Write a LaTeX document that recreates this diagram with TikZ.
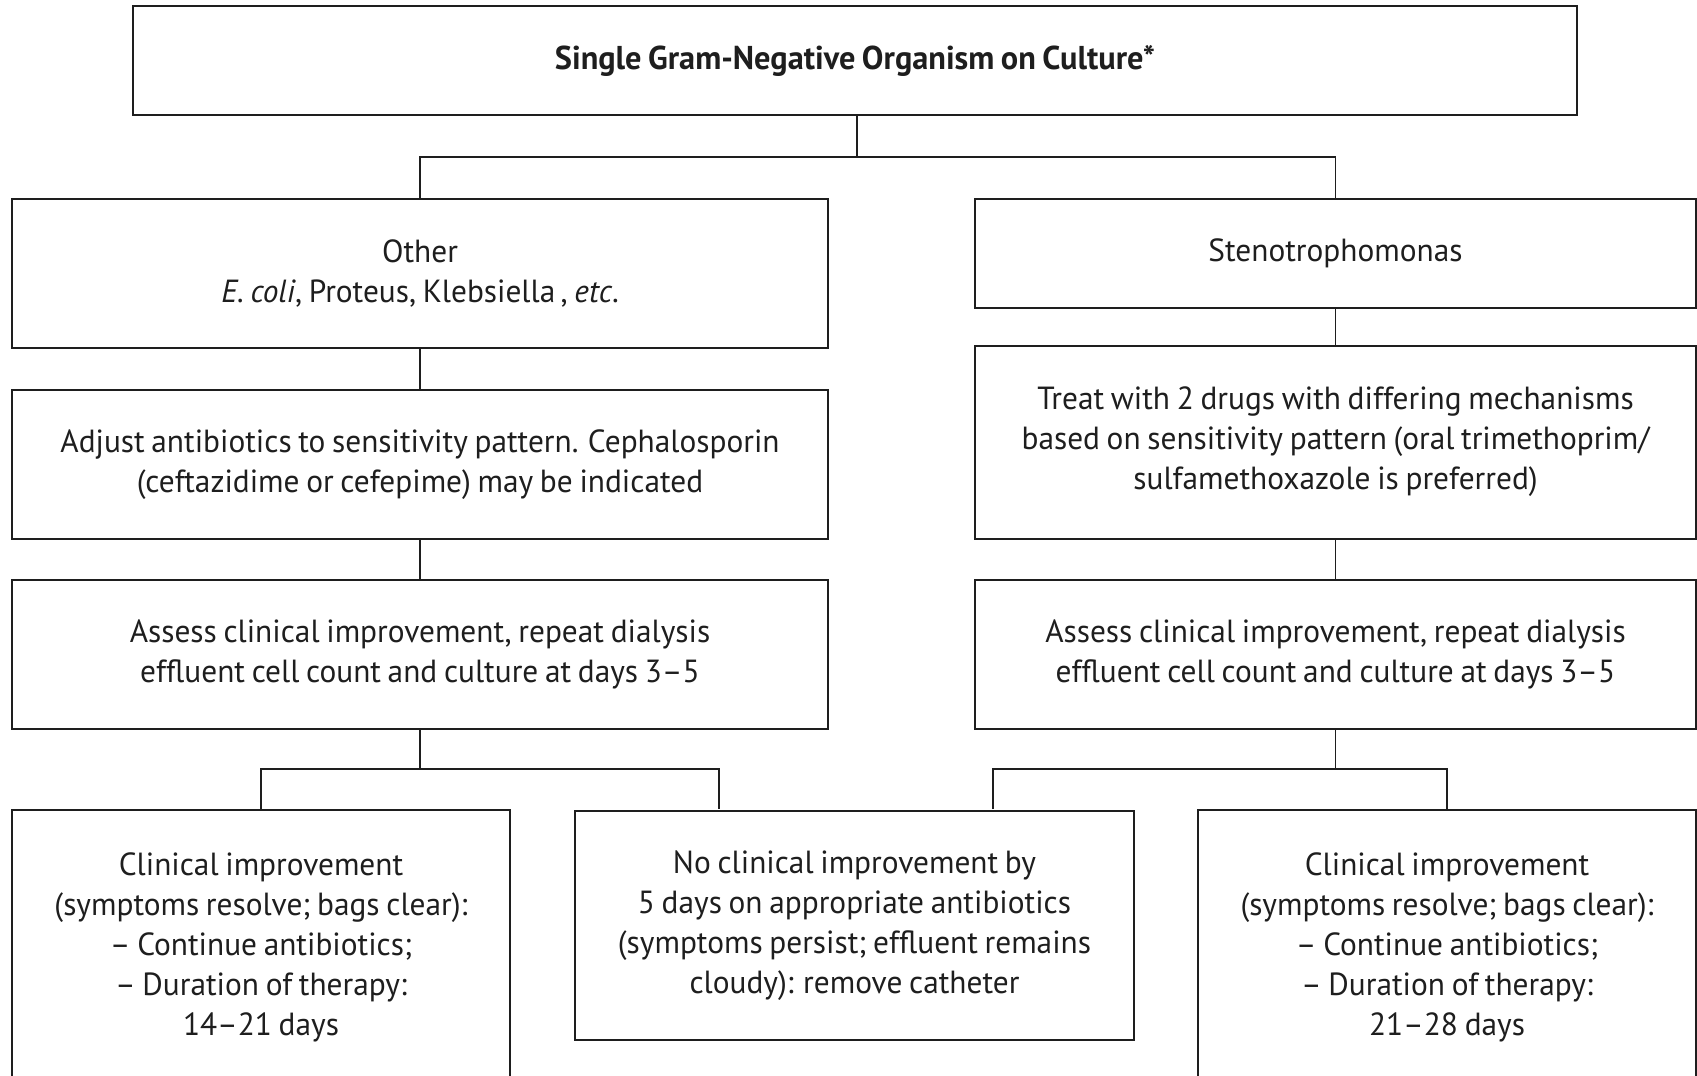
\documentclass[tikz,border=0pt]{standalone}
\usepackage{fontspec}
\setmainfont{PT Sans}[FakeStretch=0.98,WordSpace=0.8]
\definecolor{ink}{HTML}{1E1E1E}
\begin{document}
\begin{tikzpicture}[x=1pt,y=-1pt,
  box/.style={draw=ink,line width=2pt,inner sep=0pt,align=center,text=ink,
    font=\fontsize{32}{40}\selectfont},
  link/.style={draw=ink,line width=1.6pt}]
\clip (0,0) rectangle (1697,1076);
\fill[white] (0,0) rectangle (1697,1076);
% nodes
\node[box,minimum width=1444pt,minimum height=109pt,font=\fontsize{33}{40}\selectfont\bfseries] (top) at (855,60.5) {\raisebox{-3pt}{Single Gram-Negative Organism on Culture*}};
\node[box,minimum width=816pt,minimum height=149pt] (other) at (420,273.5) {Other\\\textit{E. coli}, Proteus, Klebsiella\,, \textit{etc}.};
\node[box,minimum width=721pt,minimum height=109pt] (steno) at (1335.5,253.5) {Stenotrophomonas};
\node[box,minimum width=816pt,minimum height=149pt] (adjust) at (420,464.5) {Adjust antibiotics to sensitivity pattern. Cephalosporin\\(ceftazidime or cefepime) may be indicated};
\node[box,minimum width=721pt,minimum height=193pt] (treat) at (1335.5,442) {Treat with 2 drugs with differing mechanisms\\based on sensitivity pattern (oral trimethoprim/\\sulfamethoxazole is preferred)};
\node[box,minimum width=816pt,minimum height=149pt] (assessL) at (420,654.5) {Assess clinical improvement, repeat dialysis\\effluent cell count and culture at days 3--5};
\node[box,minimum width=721pt,minimum height=149pt] (assessR) at (1335.5,654.5) {Assess clinical improvement, repeat dialysis\\effluent cell count and culture at days 3--5};
\node[box,minimum width=498pt,minimum height=274pt] (botL) at (261,947) {Clinical improvement\\(symptoms resolve; bags clear):\\-- Continue antibiotics;\\-- Duration of therapy:\\14--21 days};
\node[box,minimum width=559pt,minimum height=229pt] (mid) at (854.5,925.5) {No clinical improvement by\\5 days on appropriate antibiotics\\(symptoms persist; effluent remains\\cloudy): remove catheter};
\node[box,minimum width=498pt,minimum height=274pt] (botR) at (1447,947) {Clinical improvement\\(symptoms resolve; bags clear):\\-- Continue antibiotics;\\-- Duration of therapy:\\21--28 days};
% junctions
\coordinate (j1) at (857,157);
\coordinate (jL) at (420,769);
\coordinate (jR) at (1335.5,769);
\coordinate (midL) at (719,809);
\coordinate (midR) at (993,809);
% connectors
\draw[link] (top.south -| j1) -- (j1);
\draw[link] (other.north) |- (j1) -| (steno.north);
\draw[link] (other) -- (adjust);
\draw[link] (adjust) -- (assessL);
\draw[link] (steno) -- (treat);
\draw[link] (treat) -- (assessR);
\draw[link] (assessL.south) -- (jL);
\draw[link] (botL.north) |- (jL) -| (midL);
\draw[link] (assessR.south) -- (jR);
\draw[link] (midR) |- (jR) -| (botR.north);
\end{tikzpicture}
\end{document}
